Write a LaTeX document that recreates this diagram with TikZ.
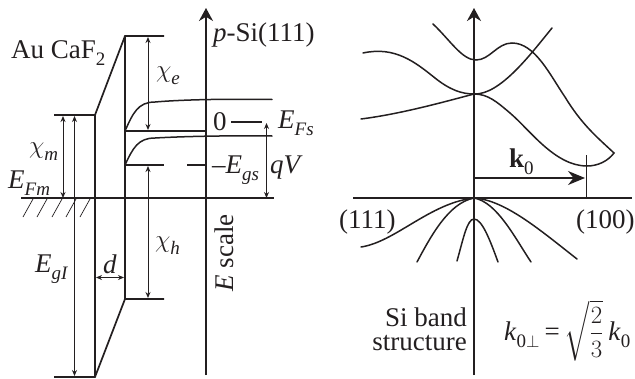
\documentclass[tikz,border=0pt]{standalone}
\usepackage{amsmath}
\usepackage{fontspec}
\setmainfont{Liberation Serif}
\usepackage{xcolor}
\usetikzlibrary{arrows.meta}
\definecolor{Ink}{HTML}{231F20}
\newcommand{\lowtxt}[1]{\raisebox{-.28em}{\fontsize{19}{20}\selectfont #1}}
\tikzset{
  level/.style={draw=Ink,line width=1.7pt},
  band/.style={draw=Ink,line width=1.5pt,line cap=round},
  axis/.style={draw=Ink,line width=1.7pt,-{Stealth[length=13pt,width=14pt]}},
  span/.style={draw=Ink,line width=1pt,{Stealth[length=6pt,width=5pt]}-{Stealth[length=6pt,width=5pt]}},
  tag/.style={anchor=base west,inner sep=0pt,text=Ink,font=\fontsize{27}{29}\selectfont}
}
\begin{document}
\begin{tikzpicture}[x=1pt,y=-1pt]
  \useasboundingbox (0,0) rectangle (635,378);
  % left panel: levels
  \draw[axis] (206,375) -- (206,8);
  \draw[level] (21,198) -- (274,198);
  \foreach \x in {23,37,52,66,80}
    \draw[Ink,line width=.7pt] (\x,217) -- ++(10,-18);
  \draw[level] (54,115) -- (95,115) -- (95,377);
  \draw[level] (54,377) -- (95,377) -- (125,299) -- (164,299);
  \draw[level] (95,115) -- (125,36) -- (164,36);
  \draw[level] (125,36) -- (125,299);
  \draw[level] (125,131) -- (206,131);
  \draw[level] (125,165) -- (164,165);
  \draw[level] (187,165) -- (205,165);
  \draw[level] (231,122) -- (262,122);
  \draw[band] (125,131) .. controls (133,113) and (138,102) .. (155,102)
    .. controls (190,99) and (240,99) .. (272,99.5);
  \draw[band] (125,165) .. controls (133,148) and (138,138) .. (155,138)
    .. controls (190,136) and (240,135.5) .. (272,136);
  \draw[span] (63,116) -- (63,198);
  \draw[span] (74.5,116) -- (74.5,376);
  \draw[span] (148,37) -- (148,130);
  \draw[span] (148,166) -- (148,298);
  \draw[span] (266.5,123) -- (266.5,198);
  \draw[span] (96,277.5) -- (124,277.5);
  % left panel: labels
  \node[tag] (metal) at (11,58) {Au CaF\lowtxt{2}};
  \node[tag] (substrate) at (213,41) {\textit{p}-Si(111)};
  \node[tag] (chie) at (156,77) {$\chi$\lowtxt{\textit{e}}};
  \node[tag] (chim) at (29,153) {$\chi$\lowtxt{\textit{m}}};
  \node[tag] (efm) at (8,188) {\textit{E}\lowtxt{\textit{Fm}}};
  \node[tag] (zero) at (213,130) {0};
  \node[tag] (efs) at (278,128) {\textit{E}\lowtxt{\textit{Fs}}};
  \node[tag] (egs) at (212,173) {–\textit{E}\lowtxt{\textit{gs}}};
  \node[tag] (qv) at (270,173) {\textit{qV}};
  \node[tag] (chih) at (155,247) {$\chi$\lowtxt{\textit{h}}};
  \node[tag] (egi) at (35,272) {\textit{E}\lowtxt{\textit{gI}}};
  \node[tag] (dist) at (103,273) {\textit{d}};
  \node[tag,anchor=base,rotate=90] (scale) at (233,253) {\textit{E} scale};
  % right panel: axes
  \draw[axis] (474,375) -- (474,8);
  \draw[level] (353,198) -- (632,198);
  \draw[Ink,line width=1pt] (586,155) -- (586,198);
  \draw[Ink,line width=1.5pt,-{Stealth[length=17pt,width=14pt]}] (475,178) -- (585,178);
  % right panel: bands
  \draw[band] (433,24) .. controls (450,40) and (462,60) .. (476,60)
    .. controls (490,60) and (497,43) .. (512,43)
    .. controls (535,43) and (550,75) .. (565,97)
    .. controls (582,125) and (598,138) .. (614,153)
    .. controls (608,161) and (598,166) .. (587,166)
    .. controls (555,166) and (530,130) .. (510,113)
    .. controls (497,102) and (488,94) .. (474,94);
  \draw[band] (363,53) .. controls (395,46) and (415,62) .. (435,78)
    .. controls (450,90) and (462,94) .. (474,94)
    .. controls (500,95) and (530,55) .. (552,28);
  \draw[band] (361,119) .. controls (400,114) and (440,103) .. (474,94);
  \draw[band] (361,247) .. controls (395,242) and (430,203) .. (474,198)
    .. controls (505,200) and (540,230) .. (577,259);
  \draw[band] (417,262) .. controls (430,238) and (448,203) .. (474,198)
    .. controls (497,202) and (515,238) .. (531,262);
  \draw[band] (457,261) .. controls (463,240) and (467,219) .. (474,219)
    .. controls (482,219) and (490,240) .. (498,262);
  % right panel: labels
  \node[tag] (kzero) at (509,167) {\textbf{k}\lowtxt{0}};
  \node[tag] (dirl) at (339,228) {(111)};
  \node[tag] (dirr) at (576,228) {(100)};
  \node[tag,anchor=base east] (sione) at (467,326) {Si band};
  \node[tag,anchor=base east] (sitwo) at (467,350) {structure};
  \node[tag] (formula) at (504,340) {\textit{k}\lowtxt{0$\perp$}\kern5pt=\kern5pt$\sqrt{\dfrac{2}{3}}$\kern5pt\textit{k}\lowtxt{0}};
\end{tikzpicture}
\end{document}
